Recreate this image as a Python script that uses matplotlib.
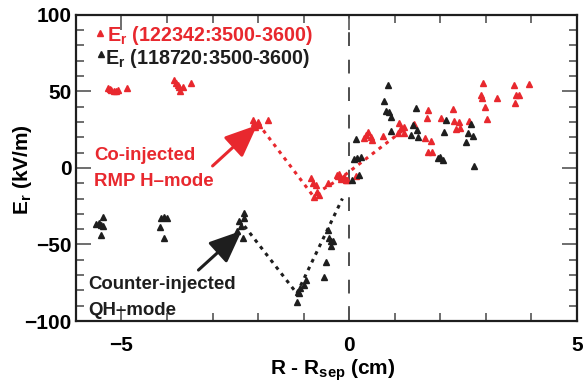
import matplotlib
matplotlib.use("Agg")
import matplotlib.pyplot as plt
from matplotlib.ticker import MultipleLocator, FuncFormatter

RED = "#e8282e"
BLK = "#1e1e1e"

# Co-injected RMP H-mode (122342)
red_x = [-5.30, -5.26, -5.22, -5.17, -5.12, -5.08, -4.88,
         -3.85, -3.81, -3.77, -3.74, -3.72, -3.66, -3.48,
         -2.12, -2.10, -2.06, -2.01, -1.99, -1.79,
         -0.84, -0.80, -0.74, -0.70, -0.78, -0.67, -0.47, -0.25, -0.19, -0.12, -0.08, -0.23,
         -0.26, -0.14, -0.04, 0.14,
         0.36, 0.41, 0.47, 0.51, 0.32, 0.74,
         1.09, 1.13, 1.20, 1.07, 1.20, 1.42,
         1.73, 1.70, 1.66, 1.79, 1.73, 1.81,
         2.01, 2.27, 2.30, 2.40, 2.34, 2.43, 2.64,
         2.93, 2.89, 2.91, 2.98, 3.02, 3.24, 3.61, 3.66, 3.72, 3.64, 3.95]
red_y = [52.5, 51.5, 51.0, 50.5, 50.5, 51.0, 52.5,
         57.5, 55.6, 54.0, 53.0, 50.0, 53.0, 55.6,
         31.4, 29.4, 27.0, 30.0, 28.0, 31.4,
         -6.5, -9.6, -11.0, -15.5, -19.0, -17.6, -9.6, -5.0, -7.0, -6.0, -8.0, -4.0,
         -4.6, -6.5, -8.0, -5.0,
         21.6, 23.5, 20.0, 18.3, 19.6, 21.0,
         29.4, 26.0, 27.0, 23.0, 23.0, 28.8,
         38.0, 32.7, 19.6, 17.6, 10.5, 10.5,
         32.7, 38.6, 30.7, 30.0, 25.5, 26.0, 30.7,
         55.6, 47.7, 45.8, 39.9, 32.0, 45.8, 54.0, 47.7, 47.7, 42.5, 55.0]

# Counter-injected QH-mode (118720)
blk_x = [-5.57, -5.50, -5.46, -5.40, -5.40, -5.46,
         -4.16, -4.13, -4.07, -4.00, -4.07,
         -2.32, -2.30, -2.43, -2.47, -2.34, -2.38,
         -0.96, -1.00, -1.07, -1.13, -1.11, -1.15,
         -0.47, -0.44, -0.40, -0.40, -0.52, -0.56, -0.36,
         0.05, 0.21, 0.10, 0.18, 0.25, 0.14,
         0.85, 0.76, 0.80, 0.87, 0.91, 0.91,
         1.35, 1.39, 1.48, 1.51, 1.46,
         1.94, 2.00, 2.05, 2.12, 2.08,
         2.60, 2.56, 2.67, 2.71, 2.74]
blk_y = [-36.6, -36.0, -37.0, -32.0, -38.0, -43.5,
         -38.6, -32.6, -32.3, -32.6, -46.0,
         -29.4, -32.7, -34.6, -41.0, -45.5, -38.0,
         -73.0, -76.5, -78.4, -81.0, -82.0, -87.6,
         -40.5, -46.0, -48.0, -51.0, -61.5, -71.0, -48.0,
         -8.0, -4.6, 5.9, 6.5, 7.0, 19.0,
         54.0, 44.0, 37.0, 36.5, 33.0, 24.0,
         21.6, 28.0, 25.0, 20.0, 39.0,
         6.5, 7.0, 5.2, 31.4, 23.5,
         23.0, 17.0, 28.8, 21.0, 1.3]

# Guide lines (dotted)
red_line_x = [-2.0, -0.8, -0.2, 1.2]
red_line_y = [29.0, -18.0, -7.0, 25.0]
blk_line_x = [-2.3, -1.15, -0.15]
blk_line_y = [-38.0, -82.0, -20.0]

legend_labels = [r"E$_\mathbf{r}$ (122342:3500-3600)", r"E$_\mathbf{r}$ (118720:3500-3600)"]

plt.rcParams['font.family'] = ['Liberation Sans', 'DejaVu Sans']
plt.rcParams['font.weight'] = 'bold'
plt.rcParams['mathtext.fontset'] = 'custom'
plt.rcParams['mathtext.rm'] = 'Liberation Sans:bold'
plt.rcParams['mathtext.bf'] = 'Liberation Sans:bold'
plt.rcParams['mathtext.it'] = 'Liberation Sans:bold'
plt.rcParams['mathtext.default'] = 'bf'

fig = plt.figure(figsize=(5.84, 3.91), dpi=100)
ax = fig.add_axes([0.130, 0.179, 0.858, 0.783])

ax.plot(red_line_x, red_line_y, linestyle=(0, (1.2, 1.6)), color=RED, lw=2.2, zorder=2)
ax.plot(blk_line_x, blk_line_y, linestyle=(0, (1.2, 1.6)), color=BLK, lw=2.2, zorder=2)
ax.plot(red_x, red_y, linestyle='none', marker='^', ms=5, color=RED, zorder=3)
ax.plot(blk_x, blk_y, linestyle='none', marker='^', ms=5, color=BLK, zorder=3)

ax.axvline(0, color=BLK, lw=1.1, linestyle=(0, (9, 9)), zorder=1)

ax.set_xlim(-6, 5)
ax.set_ylim(-100, 100)
ax.xaxis.set_major_locator(MultipleLocator(5))
ax.xaxis.set_minor_locator(MultipleLocator(1))
ax.yaxis.set_major_locator(MultipleLocator(50))
ax.yaxis.set_minor_locator(MultipleLocator(10))
ax.tick_params(which='both', direction='in', top=True, right=True, labelsize=15, color='#555555', width=1.2)
ax.tick_params(which='major', length=11)
ax.tick_params(axis='x', which='major', pad=11)
ax.tick_params(axis='y', which='major', pad=3)
ax.tick_params(which='minor', length=6)
for s in ax.spines.values():
    s.set_linewidth(1.6)
    s.set_color(BLK)

fmt = FuncFormatter(lambda v, p: f"{int(v)}".replace('-', '\u2212'))
ax.xaxis.set_major_formatter(fmt)
ax.yaxis.set_major_formatter(fmt)
for lab in ax.get_xticklabels() + ax.get_yticklabels():
    lab.set_fontweight('bold')

ax.set_xlabel(r"R - R$_{\mathbf{sep}}$ (cm)", fontsize=15, fontweight='bold')
ax.xaxis.set_label_coords((333 - 76) / 502, -(357 - 321) / 306)
ax.set_ylabel(r"E$_{\mathbf{r}}$ (kV/m)", fontsize=15, fontweight='bold')
ax.yaxis.set_label_coords(-(76 - 34) / 502, (321 - 170) / 306)

# Legend (manual)
ax.plot([-5.48], [88], marker='^', ms=4.5, color=RED, linestyle='none')
ax.plot([-5.46], [74.5], marker='^', ms=4.5, color=BLK, linestyle='none')
ax.text(-5.31, 86.5, legend_labels[0], color=RED, fontsize=14.2, fontweight='bold', va='center', ha='left')
ax.text(-5.36, 71.5, legend_labels[1], color=BLK, fontsize=14.2, fontweight='bold', va='center', ha='left')

# Annotations
ax.text(-5.6, 8, "Co-injected", color=RED, fontsize=13.4, fontweight='bold', va='center', ha='left')
ax.text(-5.6, -9, "RMP H\u2013mode", color=RED, fontsize=13.4, fontweight='bold', va='center', ha='left')
ax.annotate("", xy=(-2.02, 28), xytext=(-3.0, 1.3),
            arrowprops=dict(arrowstyle='-|>,head_length=2.0,head_width=0.85', color=RED, lw=2.2, shrinkA=0, shrinkB=0))
ax.text(-5.73, -76, "Counter-injected", color=BLK, fontsize=13.4, fontweight='bold', va='center', ha='left')
ax.text(-5.73, -93, "QH\u2013mode", color=BLK, fontsize=13.4, fontweight='bold', va='center', ha='left')
ax.annotate("", xy=(-2.36, -41), xytext=(-3.31, -66.7),
            arrowprops=dict(arrowstyle='-|>,head_length=2.0,head_width=0.85', color=BLK, lw=2.2, shrinkA=0, shrinkB=0))

fig.savefig("out.png", dpi=100)
